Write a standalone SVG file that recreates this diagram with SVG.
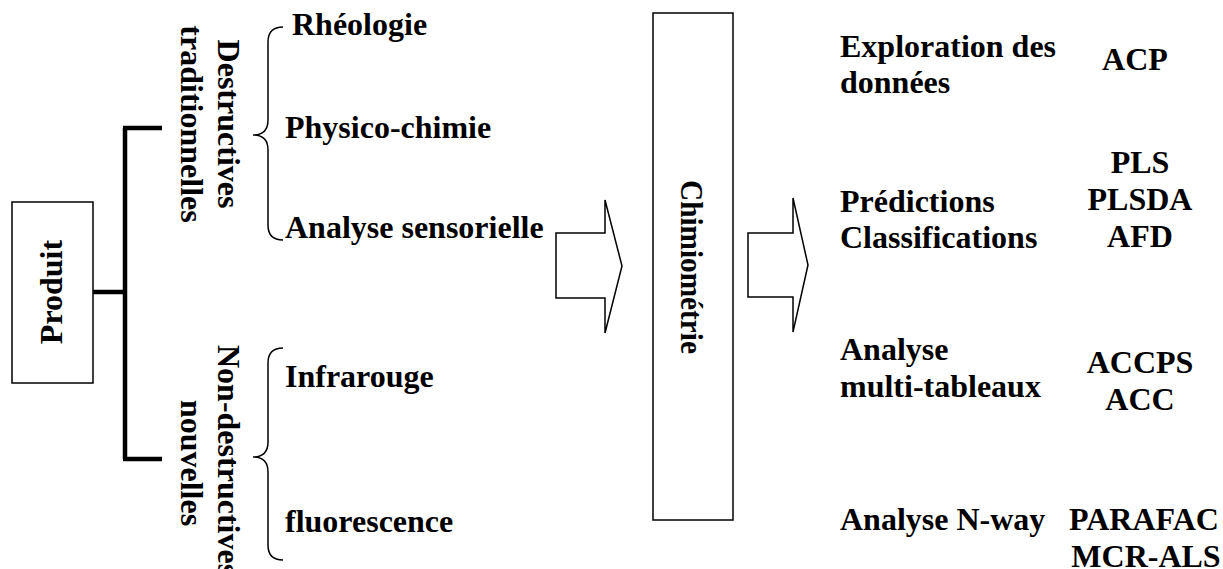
<svg xmlns="http://www.w3.org/2000/svg" width="1223" height="569" viewBox="0 0 1223 569">
<style>
text{font-family:"Liberation Serif","Times New Roman",serif;font-weight:bold;font-size:32px;fill:#000}
.box{fill:#fff;stroke:#000;stroke-width:1.5}
.thin{fill:none;stroke:#000;stroke-width:1.5}
.thick{fill:none;stroke:#000;stroke-width:4.5}
.mid{text-anchor:middle}
</style>
<rect width="1223" height="569" fill="#fff"/>
<g id="connectors">
<path class="thick" d="M93,292 H127 M125,128 V459 M123,128 H162 M123,459 H162"/>
<path class="thin" d="M283,27 Q268,27 268,42 L268,120 Q268,135 253,135 Q268,135 268,150 L268,225 Q268,240 283,240"/>
<path class="thin" d="M283,348 Q268,348 268,363 L268,442 Q268,457 253,457 Q268,457 268,472 L268,545 Q268,560 283,560"/>
<polygon class="box" points="556,233 605,233 605,200 622,266 605,333 605,298 556,298"/>
<polygon class="box" points="748,233 793,233 793,198 808,265 793,332 793,297 748,297"/>
</g>
<g id="produit">
<rect class="box" x="12" y="202" width="81" height="181"/>
<text class="mid" transform="translate(62,292) rotate(-90)">Produit</text>
</g>
<g id="destructives">
<text class="mid" transform="translate(218,124) rotate(90)">Destructives</text>
<text class="mid" transform="translate(181,124) rotate(90)">traditionnelles</text>
</g>
<g id="nondestructives">
<text transform="translate(218,345) rotate(90)">Non-destructives</text>
<text class="mid" transform="translate(181,463) rotate(90)">nouvelles</text>
</g>
<g id="methodes-destructives">
<text x="292" y="35">Rhéologie</text>
<text x="285" y="138">Physico-chimie</text>
<text x="285" y="238">Analyse sensorielle</text>
</g>
<g id="methodes-nondestructives">
<text x="285" y="387">Infrarouge</text>
<text x="285" y="532">fluorescence</text>
</g>
<g id="chimiometrie">
<rect class="box" x="653" y="13" width="80" height="507"/>
<text transform="translate(681,180) rotate(90)" textLength="174" lengthAdjust="spacingAndGlyphs">Chimiométrie</text>
</g>
<g id="exploration">
<text x="840" y="57">Exploration des</text>
<text x="840" y="93">données</text>
<text class="mid" x="1135" y="70">ACP</text>
</g>
<g id="predictions">
<text x="840" y="212">Prédictions</text>
<text x="840" y="248">Classifications</text>
<text class="mid" x="1140" y="173">PLS</text>
<text class="mid" x="1140" y="210">PLSDA</text>
<text class="mid" x="1140" y="247">AFD</text>
</g>
<g id="multitableaux">
<text x="840" y="360">Analyse</text>
<text x="840" y="397">multi-tableaux</text>
<text class="mid" x="1140" y="373">ACCPS</text>
<text class="mid" x="1140" y="410">ACC</text>
</g>
<g id="nway">
<text x="840" y="530">Analyse N-way</text>
<text class="mid" x="1144" y="530">PARAFAC</text>
<text class="mid" x="1146" y="567">MCR-ALS</text>
</g>
</svg>
